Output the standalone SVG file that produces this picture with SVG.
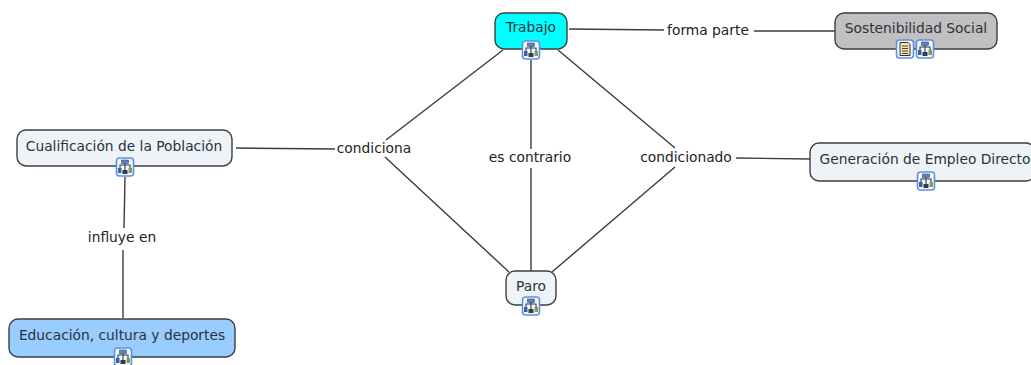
<svg xmlns="http://www.w3.org/2000/svg" width="1031" height="365" viewBox="0 0 1031 365">
<style>
.n{stroke:#3a3f45;stroke-width:1.4}
.t{font:13.8px "DejaVu Sans",Verdana,sans-serif;fill:#2a323c;text-anchor:middle}
.c{stroke:#3c3c3c;stroke-width:1.4;fill:none}
.l{font:13.8px "DejaVu Sans",Verdana,sans-serif;fill:#222;text-anchor:middle}
</style>
<defs>
<g id="ic">
<rect x="-8.5" y="-9" width="17" height="18" rx="3" fill="#f4f8fe" stroke="#5b93e0" stroke-width="1.6"/>
<path d="M0-5V5M-5 1V-2H5V1" fill="none" stroke="#2f3d50" stroke-width="1.1"/>
<rect x="-3.5" y="-7" width="7" height="3.5" fill="#5f7fc0" stroke="#2f3d50" stroke-width=".5"/>
<rect x="-7" y="1" width="3.5" height="5" fill="#3f5fa0"/>
<rect x="3.5" y="1" width="3.5" height="5" fill="#8a9a50"/>
<rect x="-2.5" y="3" width="5" height="4" fill="#2f3d50"/>
</g>
<g id="doc">
<rect x="-8.5" y="-9" width="17" height="18" rx="3" fill="#f4f8fe" stroke="#5b93e0" stroke-width="1.6"/>
<path d="M-5-6.5H3L5-4.5V6.5H-5Z" fill="#f0e8a8" stroke="#333" stroke-width="1"/>
<path d="M-3-3H3M-3-.5H3M-3 2H3M-3 4.5H3" stroke="#444" stroke-width="1"/>
</g>
</defs>
<rect width="1031" height="365" fill="#fff"/>
<g id="connectors">
<path class="c" d="M569 29L664 30M754 31L835 31"/>
<path class="c" d="M503 50L386 140M385 157L509 272"/>
<path class="c" d="M531 60V149M531 168V272"/>
<path class="c" d="M558 50L675 148M675 167L552 272"/>
<path class="c" d="M736 158L810 159"/>
<path class="c" d="M236 148L335 149"/>
<path class="c" d="M125 177L124 228M123 250V318"/>
</g>
<g id="label-forma"><text class="l" x="708" y="35">forma parte</text></g>
<g id="label-condiciona"><text class="l" x="374" y="153">condiciona</text></g>
<g id="label-contrario"><text class="l" x="530" y="162">es contrario</text></g>
<g id="label-condicionado"><text class="l" x="686" y="162">condicionado</text></g>
<g id="label-influye"><text class="l" x="122" y="242">influye en</text></g>
<g id="node-trabajo">
<rect class="n" x="495" y="13" width="72" height="36" rx="9" fill="#00ffff"/>
<text class="t" x="531" y="32">Trabajo</text>
<use href="#ic" x="531" y="50"/>
</g>
<g id="node-sostenibilidad">
<rect class="n" x="835" y="13" width="162" height="36" rx="9" fill="#c0c0c0"/>
<text class="t" x="916" y="33">Sostenibilidad Social</text>
<use href="#doc" x="905" y="49"/>
<use href="#ic" x="925" y="49"/>
</g>
<g id="node-cualificacion">
<rect class="n" x="17" y="130" width="215" height="36" rx="9" fill="#eef3f7"/>
<text class="t" x="124" y="151">Cualificación de la Población</text>
<use href="#ic" x="125" y="167"/>
</g>
<g id="node-generacion">
<rect class="n" x="810" y="143" width="225" height="38" rx="9" fill="#eef3f7"/>
<text class="t" x="925" y="164">Generación de Empleo Directo</text>
<use href="#ic" x="926" y="181"/>
</g>
<g id="node-paro">
<rect class="n" x="506" y="271" width="50" height="34" rx="9" fill="#eef3f7"/>
<text class="t" x="531" y="291">Paro</text>
<use href="#ic" x="531" y="306"/>
</g>
<g id="node-educacion">
<rect class="n" x="9" y="319" width="226" height="38" rx="9" fill="#99ccff"/>
<text class="t" x="122" y="340">Educación, cultura y deportes</text>
<use href="#ic" x="123" y="357"/>
</g>
</svg>
